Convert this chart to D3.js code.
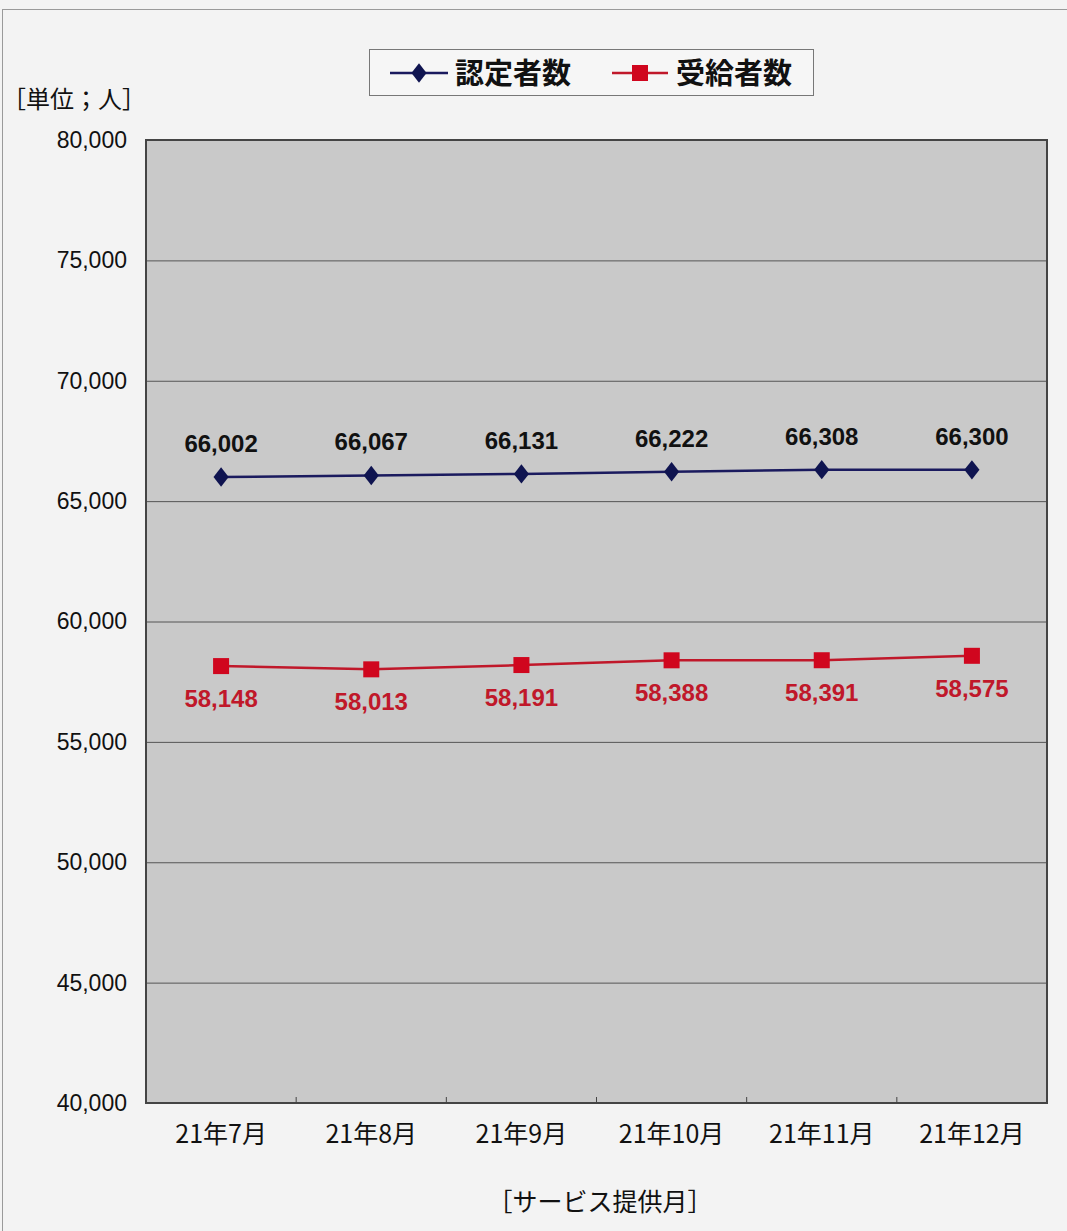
<!DOCTYPE html>
<html><head><meta charset="utf-8">
<script src="https://cdn.jsdelivr.net/npm/d3@7"></script>
<style>body{margin:0;background:#f3f3f3;} svg{display:block;}</style>
</head><body>
<script>
const categories = ["21年7月","21年8月","21年9月","21年10月","21年11月","21年12月"];
const ninteiValues = [66002,66067,66131,66222,66308,66300];
const jukyuValues = [58148,58013,58191,58388,58391,58575];
const yTicks = [40000,45000,50000,55000,60000,65000,70000,75000,80000];
const seriesNames = ["認定者数","受給者数"];

const W=1067,H=1231;
const svg=d3.select("body").append("svg").attr("width",W).attr("height",H);
svg.append("rect").attr("width",W).attr("height",H).attr("fill","#f3f3f3");
svg.append("rect").attr("x",2.5).attr("y",9.5).attr("width",W+5).attr("height",H).attr("fill","none").attr("stroke","#9a9a9a");

const L=146,R=1047,T=140,B=1103;
const x=d3.scaleBand().domain(categories).range([L,R]);
const y=d3.scaleLinear().domain([40000,80000]).range([B,T]);
const fontLat="'Liberation Sans', Arial, sans-serif";
const fontCJK="'Noto Sans CJK JP', sans-serif";

svg.append("rect").attr("x",L).attr("y",T).attr("width",R-L).attr("height",B-T).attr("fill","#c9c9c9");
svg.append("g").selectAll("line").data(yTicks.filter(d=>d>40000&&d<80000)).join("line")
 .attr("x1",L).attr("x2",R).attr("y1",d=>y(d)+0.5).attr("y2",d=>y(d)+0.5).attr("stroke","#555").attr("stroke-width",1);
svg.append("rect").attr("x",L).attr("y",T).attr("width",R-L).attr("height",B-T).attr("fill","none").attr("stroke","#444").attr("stroke-width",2);

// y axis
const ya=svg.append("g").attr("transform",`translate(${L},0)`).call(d3.axisLeft(y).tickValues(yTicks).tickFormat(d3.format(",")).tickSize(0).tickPadding(19));
ya.select(".domain").remove();
ya.selectAll("text").attr("font-family",fontLat).attr("font-size",23).attr("fill","#111");
// x axis
const xa=svg.append("g").attr("transform",`translate(0,${B})`).call(d3.axisBottom(x).tickSize(0).tickPadding(22));
xa.select(".domain").remove();
xa.selectAll("text").attr("font-family",fontCJK).attr("font-size",25).attr("fill","#111");
svg.append("g").selectAll("line").data(categories.slice(1)).join("line")
 .attr("x1",d=>x(d)).attr("x2",d=>x(d)).attr("y1",B-6).attr("y2",B).attr("stroke","#444");

const cx=d=>x(d)+x.bandwidth()/2;
const line=d3.line().x((d,i)=>cx(categories[i])).y(d=>y(d));
// nintei
svg.append("path").datum(ninteiValues).attr("d",line).attr("fill","none").attr("stroke","#1a1a5e").attr("stroke-width",2.5);
svg.append("g").selectAll("path").data(ninteiValues).join("path")
 .attr("d",d3.symbol(d3.symbolDiamond,150)()).attr("transform",(d,i)=>`translate(${cx(categories[i])},${y(d)}) scale(1.15,0.85)`).attr("fill","#0f1450");
svg.append("g").selectAll("text").data(ninteiValues).join("text")
 .attr("x",(d,i)=>cx(categories[i])).attr("y",d=>y(d)-25).attr("text-anchor","middle")
 .attr("font-family",fontLat).attr("font-weight","bold").attr("font-size",24).attr("fill","#111").text(d3.format(","));
// jukyu
svg.append("path").datum(jukyuValues).attr("d",line).attr("fill","none").attr("stroke","#c0182a").attr("stroke-width",2.5);
svg.append("g").selectAll("rect").data(jukyuValues).join("rect")
 .attr("x",(d,i)=>cx(categories[i])-8).attr("y",d=>y(d)-8).attr("width",16).attr("height",16).attr("fill","#d0061e");
svg.append("g").selectAll("text").data(jukyuValues).join("text")
 .attr("x",(d,i)=>cx(categories[i])).attr("y",d=>y(d)+41).attr("text-anchor","middle")
 .attr("font-family",fontLat).attr("font-weight","bold").attr("font-size",24).attr("fill","#c0182a").text(d3.format(","));

// legend
const lg=svg.append("g");
lg.append("rect").attr("x",369.5).attr("y",49.5).attr("width",444).attr("height",46).attr("fill","#f6f6f6").attr("stroke","#777");
lg.append("line").attr("x1",390).attr("x2",448).attr("y1",73).attr("y2",73).attr("stroke","#1a1a5e").attr("stroke-width",2.5);
lg.append("path").attr("d",d3.symbol(d3.symbolDiamond,150)()).attr("transform","translate(419,73) scale(1.15,0.85)").attr("fill","#0f1450");
lg.append("text").attr("x",455).attr("y",84).attr("font-family",fontCJK).attr("font-weight","bold").attr("font-size",29).attr("fill","#111").text(seriesNames[0]);
lg.append("line").attr("x1",612).attr("x2",668).attr("y1",73).attr("y2",73).attr("stroke","#c0182a").attr("stroke-width",2.5);
lg.append("rect").attr("x",632).attr("y",65).attr("width",16).attr("height",16).attr("fill","#d0061e");
lg.append("text").attr("x",676).attr("y",84).attr("font-family",fontCJK).attr("font-weight","bold").attr("font-size",29).attr("fill","#111").text(seriesNames[1]);

svg.append("text").attr("x",2).attr("y",108).attr("font-family",fontCJK).attr("font-size",24).attr("fill","#111").text("［単位；人］");
svg.append("text").attr("x",600).attr("y",1211).attr("text-anchor","middle").attr("font-family",fontCJK).attr("font-size",25).attr("fill","#111").text("［サービス提供月］");
</script>
</body></html>
